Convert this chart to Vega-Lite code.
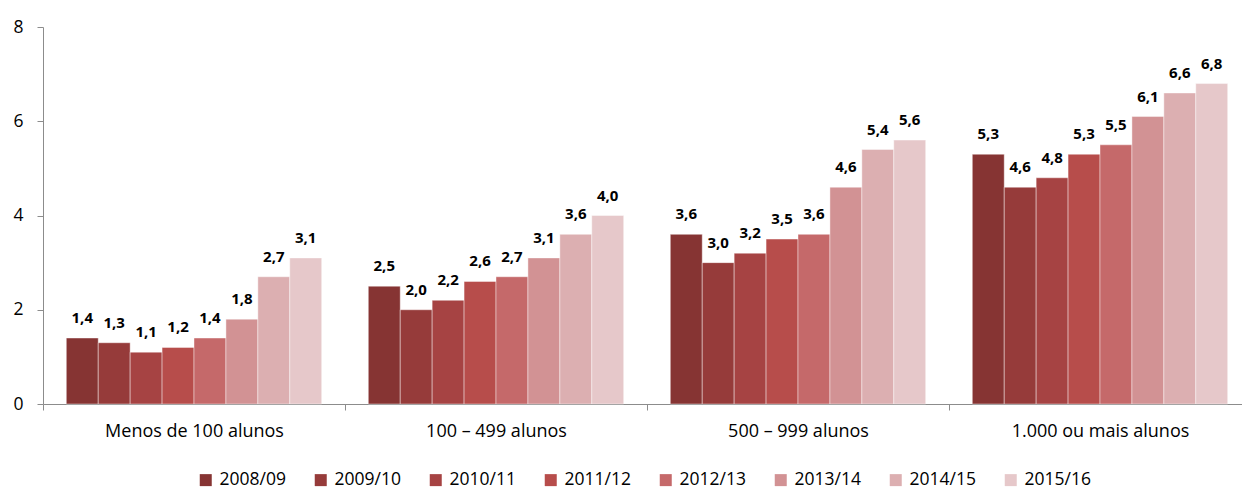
{
  "$schema": "https://vega.github.io/schema/vega-lite/v6.json",
  "width": 1208,
  "height": 377,
  "autosize": {"type": "none"},
  "padding": {"left": 43, "top": 27, "right": 0, "bottom": 85},
  "background": "white",
  "config": {
    "locale": {"number": {"decimal": ",", "thousands": ".", "grouping": [3], "currency": ["", " €"]}},
    "font": "Open Sans",
    "view": {"stroke": null}
  },
  "data": {"values": [
    {"g": "Menos de 100 alunos", "y": "2008/09", "v": 1.4},
    {"g": "Menos de 100 alunos", "y": "2009/10", "v": 1.3},
    {"g": "Menos de 100 alunos", "y": "2010/11", "v": 1.1},
    {"g": "Menos de 100 alunos", "y": "2011/12", "v": 1.2},
    {"g": "Menos de 100 alunos", "y": "2012/13", "v": 1.4},
    {"g": "Menos de 100 alunos", "y": "2013/14", "v": 1.8},
    {"g": "Menos de 100 alunos", "y": "2014/15", "v": 2.7},
    {"g": "Menos de 100 alunos", "y": "2015/16", "v": 3.1},
    {"g": "100 – 499 alunos", "y": "2008/09", "v": 2.5},
    {"g": "100 – 499 alunos", "y": "2009/10", "v": 2.0},
    {"g": "100 – 499 alunos", "y": "2010/11", "v": 2.2},
    {"g": "100 – 499 alunos", "y": "2011/12", "v": 2.6},
    {"g": "100 – 499 alunos", "y": "2012/13", "v": 2.7},
    {"g": "100 – 499 alunos", "y": "2013/14", "v": 3.1},
    {"g": "100 – 499 alunos", "y": "2014/15", "v": 3.6},
    {"g": "100 – 499 alunos", "y": "2015/16", "v": 4.0},
    {"g": "500 – 999 alunos", "y": "2008/09", "v": 3.6},
    {"g": "500 – 999 alunos", "y": "2009/10", "v": 3.0},
    {"g": "500 – 999 alunos", "y": "2010/11", "v": 3.2},
    {"g": "500 – 999 alunos", "y": "2011/12", "v": 3.5},
    {"g": "500 – 999 alunos", "y": "2012/13", "v": 3.6},
    {"g": "500 – 999 alunos", "y": "2013/14", "v": 4.6},
    {"g": "500 – 999 alunos", "y": "2014/15", "v": 5.4},
    {"g": "500 – 999 alunos", "y": "2015/16", "v": 5.6},
    {"g": "1.000 ou mais alunos", "y": "2008/09", "v": 5.3},
    {"g": "1.000 ou mais alunos", "y": "2009/10", "v": 4.6},
    {"g": "1.000 ou mais alunos", "y": "2010/11", "v": 4.8},
    {"g": "1.000 ou mais alunos", "y": "2011/12", "v": 5.3},
    {"g": "1.000 ou mais alunos", "y": "2012/13", "v": 5.5},
    {"g": "1.000 ou mais alunos", "y": "2013/14", "v": 6.1},
    {"g": "1.000 ou mais alunos", "y": "2014/15", "v": 6.6},
    {"g": "1.000 ou mais alunos", "y": "2015/16", "v": 6.8}
  ]},
  "encoding": {
    "x": {
      "field": "g", "type": "nominal", "sort": null, "title": null,
      "scale": {"paddingInner": 0, "paddingOuter": 0},
      "axis": {
        "labelAngle": 0, "labelFontSize": 18, "labelColor": "#000000", "labelPadding": 12,
        "domainColor": "#8c8c8c", "tickColor": "#8c8c8c", "tickSize": 6, "tickBand": "extent"
      }
    },
    "xOffset": {"field": "y", "type": "nominal", "sort": null, "scale": {"paddingOuter": 0.73, "paddingInner": 0}},
    "y": {
      "field": "v", "type": "quantitative", "title": null,
      "scale": {"domain": [0, 8]},
      "axis": {
        "values": [0, 2, 4, 6, 8], "grid": false, "labelFontSize": 17.5, "labelColor": "#000000",
        "domainColor": "#8c8c8c", "tickColor": "#8c8c8c", "tickSize": 6, "labelPadding": 14
      }
    }
  },
  "layer": [
    {
      "mark": {"type": "bar", "stroke": "white", "strokeWidth": 0.7, "strokeOpacity": 0.6},
      "encoding": {
        "color": {
          "field": "y", "type": "nominal", "sort": null, "title": null,
          "scale": {
            "domain": ["2008/09", "2009/10", "2010/11", "2011/12", "2012/13", "2013/14", "2014/15", "2015/16"],
            "range": ["#863433", "#963b3a", "#a64343", "#b74d4b", "#c5696a", "#d29294", "#dcafb1", "#e6c8ca"]
          },
          "legend": {
            "orient": "none", "legendX": 154, "legendY": 444, "direction": "horizontal",
            "symbolType": "square", "symbolSize": 144,
            "symbolStrokeWidth": 0, "labelFontSize": 17.5, "labelColor": "#000000", "columnPadding": 26,
            "labelOffset": 5
          }
        }
      }
    },
    {
      "mark": {"type": "text", "fontWeight": "bold", "fontSize": 15, "baseline": "alphabetic", "dy": -15, "color": "#000000"},
      "encoding": {
        "text": {"field": "v", "type": "quantitative", "format": ".1f"}
      }
    }
  ]
}
